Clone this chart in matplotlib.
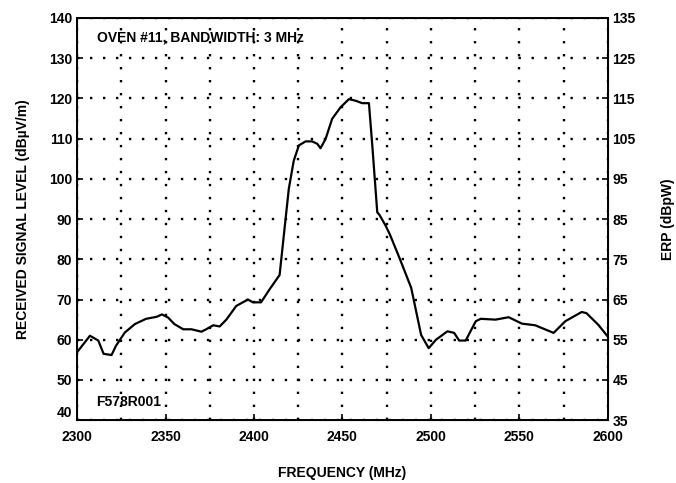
import matplotlib.pyplot as plt
import numpy as np

plt.rcParams['font.family'] = ['Liberation Sans Narrow', 'Liberation Sans', 'DejaVu Sans']
plt.rcParams['font.weight'] = 'bold'
plt.rcParams['axes.labelweight'] = 'bold'

# received level vs frequency
freq = [2300, 2307.3, 2312, 2315, 2319.5, 2322, 2327, 2332.7, 2339, 2345, 2348,
        2351.5, 2355, 2360, 2364.7, 2370.3, 2373, 2377, 2380.6, 2384.4, 2390,
        2396.6, 2399.4, 2404, 2408.8, 2414.5, 2416.9, 2419.7, 2422.5, 2425.4,
        2429.2, 2432.9, 2435.8, 2437.6, 2440.5, 2444.2, 2449, 2453.7, 2457.5,
        2461.2, 2465, 2466.9, 2469.7, 2471, 2474.4, 2477, 2482.3, 2488.9,
        2494.5, 2498.8, 2502.9, 2509.4, 2513.2, 2516, 2519.7, 2525.4, 2528.2,
        2536.6, 2544, 2551.5, 2559, 2569.4, 2576, 2585.3, 2588, 2594.7, 2600]
level = [56.9, 61.0, 59.8, 56.5, 56.2, 58.5, 61.8, 63.9, 65.2, 65.7, 66.3,
         65.5, 63.9, 62.6, 62.6, 62.0, 62.6, 63.6, 63.3, 65.0, 68.4,
         70.0, 69.3, 69.3, 72.5, 76.1, 86.0, 97.5, 104.5, 108.3,
         109.3, 109.3, 108.7, 107.6, 109.9, 114.9, 117.8, 119.8, 119.4,
         118.8, 118.8, 108.3, 91.7, 91.0, 88.4, 86.0, 80.3, 72.9,
         61.2, 57.9, 60.0, 62.1, 61.7, 59.8, 59.8, 64.6, 65.2,
         65.0, 65.6, 64.0, 63.6, 61.7, 64.6, 66.9, 66.6, 63.7, 60.8]

erp_offset = 5  # dBuV/m minus dBpW

fig = plt.figure(figsize=(6.76, 4.83), dpi=100)
ax = fig.add_axes([0.114, 0.130, 0.785, 0.833])
ax.plot(freq, level, color='black', lw=1.6)

ax.set_xlim(2300, 2600)
ax.set_ylim(40, 140)
ax.set_xticks(np.arange(2300, 2601, 50))
ax.set_xticks(np.arange(2325, 2600, 50), minor=True)
ax.set_yticks(np.arange(40, 141, 10))
ax.grid(True, which='both', color='black', linestyle=(0, (1, 4.5)), lw=1.7)
ax.tick_params(direction='in', length=4, labelsize=10, width=1.2)
ax.tick_params(axis='x', pad=7)
ax.tick_params(which='minor', length=0)
for s in ax.spines.values():
    s.set_linewidth(1.4)

ax2 = ax.twinx()
ax2.set_ylim(40 - erp_offset, 140 - erp_offset)
ax2.set_yticks(np.arange(35, 136, 10))
ax2.tick_params(direction='in', length=4, labelsize=10, width=1.2)

# bottom-left label sits just above the x axis line
ax.get_yticklabels()[0].set_va('bottom')

ax.set_xlabel('FREQUENCY (MHz)', fontsize=10, labelpad=16)
ax.set_ylabel('RECEIVED SIGNAL LEVEL (dBµV/m)', fontsize=10, labelpad=14)
ax2.set_ylabel('ERP (dBpW)', fontsize=10, labelpad=18)

ax.text(2311, 135, 'OVEN #11, BANDWIDTH: 3 MHz', fontsize=10, va='center')
ax.text(2311, 44.5, 'F578R001', fontsize=10, va='center')

fig.savefig('out.png', dpi=100)
